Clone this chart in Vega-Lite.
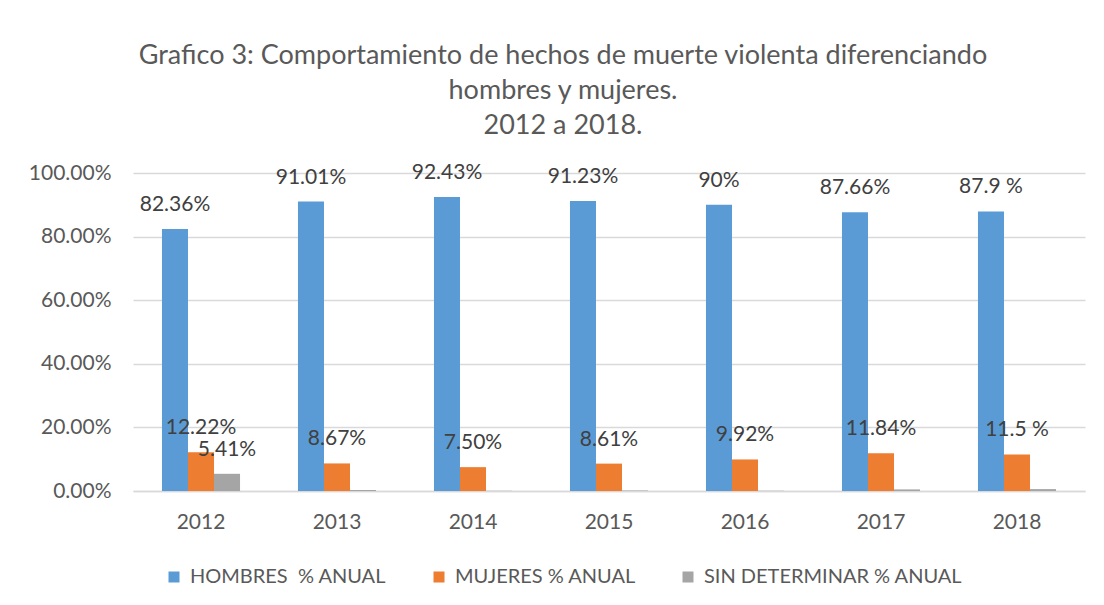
{
  "$schema": "https://vega.github.io/schema/vega-lite/v6.json",
  "width": 952,
  "height": 318,
  "autosize": {"type": "none"},
  "padding": {"left": 133, "top": 173, "right": 19, "bottom": 114},
  "background": "white",
  "config": {
    "font": "Lato",
    "view": {"stroke": null},
    "axis": {"labelFont": "Lato", "labelFontSize": 21, "labelColor": "#595959", "ticks": false, "title": null},
    "legend": {"labelFont": "Lato", "labelFontSize": 21, "labelColor": "#595959"}
  },
  "title": {
    "text": ["Grafico 3: Comportamiento de hechos de muerte violenta diferenciando", "hombres y mujeres.", "2012 a 2018."],
    "fontSize": 27,
    "fontWeight": "normal",
    "font": "Lato",
    "color": "#595959",
    "lineHeight": 35,
    "anchor": "middle",
    "dx": -46,
    "offset": 22
  },
  "data": {
    "values": [
      {"year": "2012", "series": "HOMBRES  % ANUAL", "value": 0.8236, "label": "82.36%"},
      {"year": "2012", "series": "MUJERES % ANUAL", "value": 0.1222, "label": "12.22%"},
      {"year": "2012", "series": "SIN DETERMINAR % ANUAL", "value": 0.0541, "label": "5.41%"},
      {"year": "2013", "series": "HOMBRES  % ANUAL", "value": 0.9101, "label": "91.01%"},
      {"year": "2013", "series": "MUJERES % ANUAL", "value": 0.0867, "label": "8.67%"},
      {"year": "2013", "series": "SIN DETERMINAR % ANUAL", "value": 0.0032, "label": null},
      {"year": "2014", "series": "HOMBRES  % ANUAL", "value": 0.9243, "label": "92.43%"},
      {"year": "2014", "series": "MUJERES % ANUAL", "value": 0.075, "label": "7.50%"},
      {"year": "2014", "series": "SIN DETERMINAR % ANUAL", "value": 0.0007, "label": null},
      {"year": "2015", "series": "HOMBRES  % ANUAL", "value": 0.9123, "label": "91.23%"},
      {"year": "2015", "series": "MUJERES % ANUAL", "value": 0.0861, "label": "8.61%"},
      {"year": "2015", "series": "SIN DETERMINAR % ANUAL", "value": 0.0016, "label": null},
      {"year": "2016", "series": "HOMBRES  % ANUAL", "value": 0.90, "label": "90%"},
      {"year": "2016", "series": "MUJERES % ANUAL", "value": 0.0992, "label": "9.92%"},
      {"year": "2016", "series": "SIN DETERMINAR % ANUAL", "value": 0.0008, "label": null},
      {"year": "2017", "series": "HOMBRES  % ANUAL", "value": 0.8766, "label": "87.66%"},
      {"year": "2017", "series": "MUJERES % ANUAL", "value": 0.1184, "label": "11.84%"},
      {"year": "2017", "series": "SIN DETERMINAR % ANUAL", "value": 0.005, "label": null},
      {"year": "2018", "series": "HOMBRES  % ANUAL", "value": 0.879, "label": "87.9 %"},
      {"year": "2018", "series": "MUJERES % ANUAL", "value": 0.115, "label": "11.5 %"},
      {"year": "2018", "series": "SIN DETERMINAR % ANUAL", "value": 0.006, "label": null}
    ]
  },
  "encoding": {
    "x": {
      "field": "year", "type": "nominal",
      "scale": {"paddingInner": 0.426, "paddingOuter": 0.213},
      "axis": {"labelAngle": 0, "domainColor": "#d9d9d9", "domainWidth": 1.5, "labelPadding": 20, "grid": false}
    },
    "xOffset": {
      "field": "series", "type": "nominal",
      "scale": {"domain": ["HOMBRES  % ANUAL", "MUJERES % ANUAL", "SIN DETERMINAR % ANUAL"], "paddingInner": 0, "paddingOuter": 0}
    },
    "y": {
      "field": "value", "type": "quantitative",
      "scale": {"domain": [0, 1]},
      "axis": {"format": ".2%", "values": [0, 0.2, 0.4, 0.6, 0.8, 1], "domain": false, "gridColor": "#d9d9d9", "gridWidth": 1.5, "labelPadding": 22}
    }
  },
  "layer": [
    {
      "mark": {"type": "bar"},
      "encoding": {
        "color": {
          "field": "series", "type": "nominal",
          "scale": {"domain": ["HOMBRES  % ANUAL", "MUJERES % ANUAL", "SIN DETERMINAR % ANUAL"], "range": ["#5B9BD5", "#ED7D31", "#A5A5A5"]},
          "legend": {
            "title": null, "orient": "none", "direction": "horizontal",
            "legendX": 31, "legendY": 394,
            "symbolType": "square", "symbolSize": 121, "symbolStrokeWidth": 0,
            "labelOffset": 6, "columnPadding": 42, "padding": 0, "labelLimit": 400,
            "labelFontSize": 20,
            "labelExpr": "replace(datum.label, '  ', '\u00a0 ')"
          }
        }
      }
    },
    {
      "transform": [{"filter": "datum.label != null"}],
      "mark": {"type": "text", "dy": -24, "baseline": "middle", "fontSize": 21, "color": "#404040", "font": "Lato"},
      "encoding": {"text": {"field": "label"}}
    }
  ]
}
